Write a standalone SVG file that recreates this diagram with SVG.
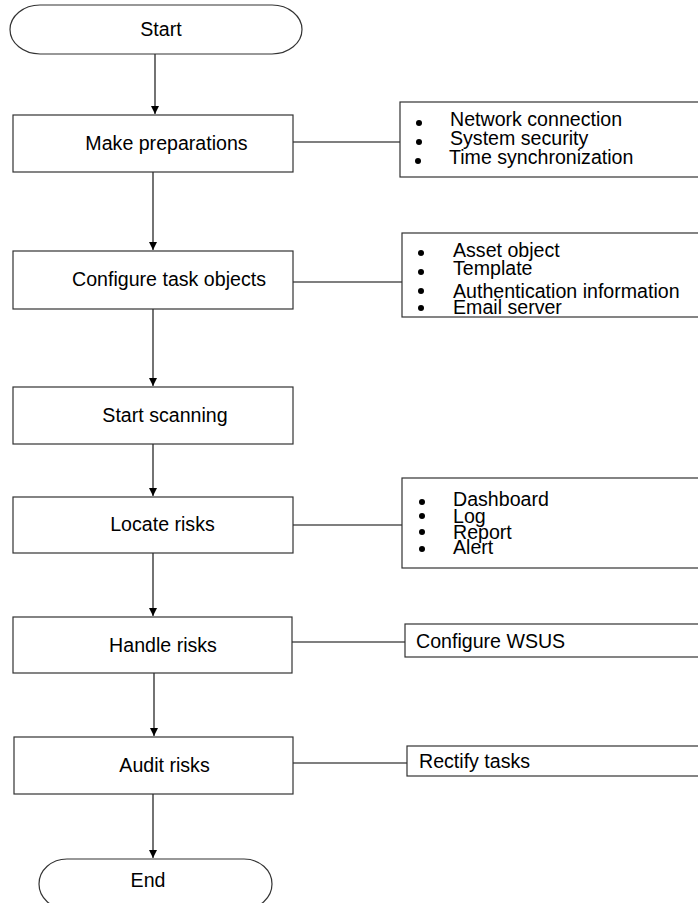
<svg xmlns="http://www.w3.org/2000/svg" width="698" height="903" viewBox="0 0 698 903">
<defs>
<style>
text{font-family:"Liberation Sans",Arial,sans-serif;font-size:19.6px;fill:#000}
.c{text-anchor:middle}
.box{fill:#fff;stroke:#333;stroke-width:1.2}
.note{fill:#fff;stroke:#333;stroke-width:1.2}
.ln{fill:none;stroke:#000;stroke-width:1.1}
.dot{fill:#000}
</style>
<marker id="ah" viewBox="0 0 10 10" refX="10" refY="5" markerWidth="8" markerHeight="8" markerUnits="userSpaceOnUse" orient="auto">
<path d="M0,0 L10,5 L0,10 z" fill="#000"/>
</marker>
</defs>
<rect width="698" height="903" fill="#fff"/>

<g id="connectors">
<line class="ln" x1="155" y1="54" x2="155" y2="114" marker-end="url(#ah)"/>
<line class="ln" x1="153" y1="172" x2="153" y2="250" marker-end="url(#ah)"/>
<line class="ln" x1="153" y1="309" x2="153" y2="386" marker-end="url(#ah)"/>
<line class="ln" x1="153" y1="444" x2="153" y2="496" marker-end="url(#ah)"/>
<line class="ln" x1="153" y1="553" x2="153" y2="616" marker-end="url(#ah)"/>
<line class="ln" x1="154" y1="673" x2="154" y2="736" marker-end="url(#ah)"/>
<line class="ln" x1="153" y1="794" x2="153" y2="858" marker-end="url(#ah)"/>
<line class="ln" x1="293" y1="142" x2="400" y2="142"/>
<line class="ln" x1="293" y1="282" x2="402" y2="282"/>
<line class="ln" x1="293" y1="525" x2="402" y2="525"/>
<line class="ln" x1="292" y1="642" x2="405" y2="642"/>
<line class="ln" x1="293" y1="763" x2="407" y2="763"/>
</g>

<g id="start">
<rect class="box" x="10" y="5" width="292" height="49" rx="30" ry="24.5"/>
<text class="c" x="161" y="36">Start</text>
</g>

<g id="make-preparations">
<rect class="box" x="13" y="115" width="280" height="57"/>
<text class="c" x="166.5" y="150">Make preparations</text>
</g>

<g id="preparations-list">
<rect class="note" x="400" y="102" width="310" height="75"/>
<circle class="dot" cx="419" cy="123" r="3"/>
<circle class="dot" cx="419" cy="142" r="3"/>
<circle class="dot" cx="418" cy="161" r="3"/>
<text x="450" y="126">Network connection</text>
<text x="450" y="145">System security</text>
<text x="449" y="164">Time synchronization</text>
</g>

<g id="configure-task-objects">
<rect class="box" x="13" y="251" width="280" height="58"/>
<text class="c" x="169" y="286">Configure task objects</text>
</g>

<g id="task-objects-list">
<rect class="note" x="402" y="233" width="310" height="84"/>
<circle class="dot" cx="421" cy="253" r="3"/>
<circle class="dot" cx="421" cy="272" r="3"/>
<circle class="dot" cx="421" cy="291" r="3"/>
<circle class="dot" cx="421" cy="308" r="3"/>
<text x="453" y="257">Asset object</text>
<text x="453" y="275">Template</text>
<text x="453" y="298">Authentication information</text>
<text x="453" y="314">Email server</text>
</g>

<g id="start-scanning">
<rect class="box" x="13" y="387" width="280" height="57"/>
<text class="c" x="165" y="422">Start scanning</text>
</g>

<g id="locate-risks">
<rect class="box" x="13" y="497" width="280" height="56"/>
<text class="c" x="162.5" y="531">Locate risks</text>
</g>

<g id="locate-list">
<rect class="note" x="402" y="478" width="310" height="90"/>
<circle class="dot" cx="422" cy="502" r="3"/>
<circle class="dot" cx="422" cy="516" r="3"/>
<circle class="dot" cx="422" cy="532" r="3"/>
<circle class="dot" cx="422" cy="549" r="3"/>
<text x="453" y="506">Dashboard</text>
<text x="453" y="523">Log</text>
<text x="453" y="539">Report</text>
<text x="453" y="554">Alert</text>
</g>

<g id="handle-risks">
<rect class="box" x="13" y="617" width="279" height="56"/>
<text class="c" x="163" y="652">Handle risks</text>
</g>

<g id="handle-list">
<rect class="note" x="405" y="624" width="310" height="33"/>
<text x="416" y="648">Configure WSUS</text>
</g>

<g id="audit-risks">
<rect class="box" x="14" y="737" width="279" height="57"/>
<text class="c" x="164.5" y="772">Audit risks</text>
</g>

<g id="audit-list">
<rect class="note" x="407" y="746" width="310" height="30"/>
<text x="419" y="768">Rectify tasks</text>
</g>

<g id="end">
<rect class="box" x="39" y="859" width="233" height="50" rx="28" ry="25"/>
<text class="c" x="148" y="887">End</text>
</g>
</svg>
